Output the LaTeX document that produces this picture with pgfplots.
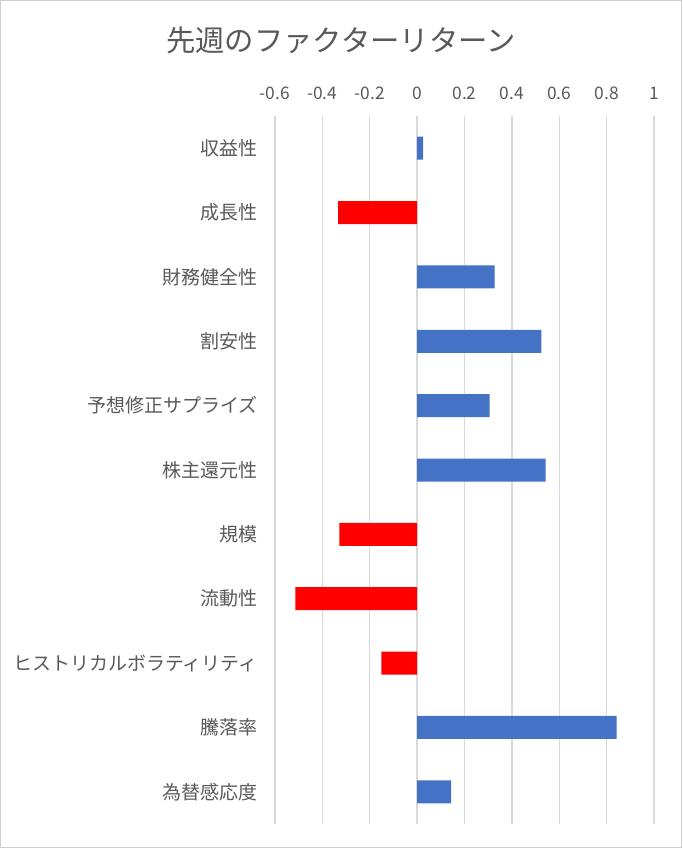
\documentclass[border=0pt]{standalone}
\usepackage{pgfplots}
\pgfplotsset{compat=1.18}
\usepackage{pgfplotstable}
\usepackage{fontspec}
\setmainfont{Noto Sans CJK JP}
\definecolor{barblue}{HTML}{4472C4}
\definecolor{barred}{HTML}{FF0000}
\definecolor{txtgray}{HTML}{595959}
\definecolor{gridgray}{HTML}{D9D9D9}
\definecolor{framegray}{HTML}{D0D0D0}

% factor returns, idx 0 = top row
\pgfplotstableread{
val idx
0.025 0
0.327 2
0.525 3
0.306 4
0.542 5
0.842 9
0.144 10
}\posdata
\pgfplotstableread{
val idx
-0.333 1
-0.328 6
-0.514 7
-0.151 8
}\negdata

\begin{document}
\begin{tikzpicture}[x=1pt,y=1pt]
\draw[framegray, line width=0.9pt] (0.45,0.45) rectangle (511.05,635.55);
\node[text=txtgray, font=\fontsize{22}{26}\selectfont] at (255.75,606) {先週のファクターリターン};
\begin{axis}[
    at={(206.25pt,18pt)}, anchor=south west,
    scale only axis, width=284.25pt, height=531pt,
    xmin=-0.6, xmax=1, ymin=-0.5, ymax=10.5,
    y dir=reverse,
    axis line style={draw=none},
    major tick length=0pt,
    xmajorgrids, grid style={gridgray, line width=1pt},
    xtick={-0.6,-0.4,-0.2,0,0.2,0.4,0.6,0.8,1},
    xticklabels={-0.6,-0.4,-0.2,0,0.2,0.4,0.6,0.8,1},
    xticklabel pos=upper,
    xticklabel style={text=txtgray, font=\fontsize{13}{15}\selectfont, anchor=center, yshift=17pt},
    ytick={0,...,10},
    yticklabels={収益性,成長性,財務健全性,割安性,予想修正サプライズ,株主還元性,規模,流動性,ヒストリカルボラティリティ,騰落率,為替感応度},
    yticklabel style={text=txtgray, font=\fontsize{14.25}{17}\selectfont, anchor=east, inner sep=0pt, xshift=-12.75pt},
    xbar, bar width=17.25pt, bar shift=0pt,
]
\addplot[draw=none, fill=barblue] table[x=val, y=idx] {\posdata};
\addplot[draw=none, fill=barred] table[x=val, y=idx] {\negdata};
\end{axis}
\end{tikzpicture}
\end{document}
